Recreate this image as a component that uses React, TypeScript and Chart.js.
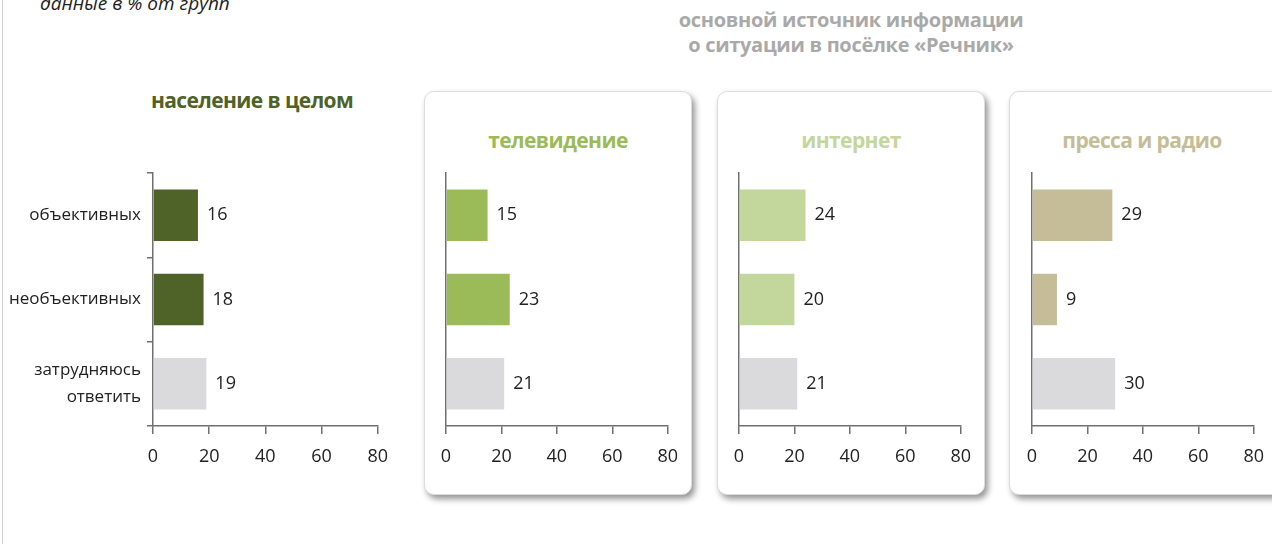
import React, { useEffect, useRef } from "react";
import { Chart, registerables } from "chart.js";

Chart.register(...registerables);

const CATEGORIES: (string | string[])[] = ["объективных", "необъективных", ["затрудняюсь", "ответить"]];
const X_TICKS = [0, 20, 40, 60, 80];
const POPULATION = [16, 18, 19];
const TELEVISION = [15, 23, 21];
const INTERNET = [24, 20, 21];
const PRESS_RADIO = [29, 9, 30];

const NOTE = "данные в % от групп";
const HEADER = ["основной источник информации", "о ситуации в посёлке «Речник»"];
const TITLE_POP = "население в целом";
const TITLE_TV = "телевидение";
const TITLE_NET = "интернет";
const TITLE_PRESS = "пресса и радио";

const FONT = "'Open Sans', sans-serif";
const GRAY_BAR = "#dadadc";
const AXIS = "#707070";

type PanelProps = {
  values: number[];
  color: string;
  showLabels: boolean;
  left: number;
  top: number;
  width: number;
  height: number;
  yWidth: number;
  padRight: number;
  padTop: number;
};

function BarChart(p: PanelProps) {
  const ref = useRef<HTMLCanvasElement | null>(null);
  useEffect(() => {
    if (!ref.current) return;
    const values = p.values;
    const valuePlugin = {
      id: "valueLabels",
      afterDatasetsDraw(chart: any) {
        const ctx = chart.ctx;
        const meta = chart.getDatasetMeta(0);
        ctx.save();
        ctx.font = `18px ${FONT}`;
        ctx.fillStyle = "#222";
        ctx.textAlign = "left";
        ctx.textBaseline = "middle";
        meta.data.forEach((bar: any, i: number) => {
          ctx.fillText(String(values[i]), bar.x + 9, bar.y);
        });
        ctx.restore();
      },
    };
    const chart = new Chart(ref.current, {
      type: "bar",
      data: {
        labels: CATEGORIES as any,
        datasets: [
          {
            data: values,
            backgroundColor: [p.color, p.color, GRAY_BAR],
            borderWidth: 0,
            categoryPercentage: 1,
            barPercentage: 0.61,
          },
        ],
      },
      options: {
        indexAxis: "y",
        responsive: false,
        animation: false,
        layout: { padding: { top: p.padTop, right: p.padRight, left: 0, bottom: 0 } },
        plugins: { legend: { display: false }, tooltip: { enabled: false }, title: { display: false } },
        scales: {
          x: {
            type: "linear",
            min: X_TICKS[0],
            max: X_TICKS[X_TICKS.length - 1],
            afterBuildTicks: (s: any) => {
              s.ticks = X_TICKS.map((v) => ({ value: v }));
            },
            ticks: { padding: 12, color: "#222", font: { size: 18, family: FONT } },
            grid: { drawOnChartArea: false, drawTicks: true, tickLength: 8, color: AXIS, lineWidth: 1.5 },
            border: { color: AXIS, width: 1.5 },
            afterFit: (s: any) => {
              s.height = 48;
            },
          },
          y: {
            type: "category",
            ticks: { display: p.showLabels, padding: 6, color: "#222", font: { size: 17, family: FONT, lineHeight: 1.6 } },
            grid: { display: p.showLabels, drawOnChartArea: false, drawTicks: true, tickLength: 6, color: AXIS, lineWidth: 1.5, offset: true },
            border: { color: AXIS, width: 1.5 },
            afterFit: (s: any) => {
              s.width = p.yWidth;
            },
          },
        },
      } as any,
      plugins: [valuePlugin],
    });
    return () => chart.destroy();
  }, []);
  return (
    <canvas
      ref={ref}
      width={p.width}
      height={p.height}
      style={{ position: "absolute", left: p.left, top: p.top, width: p.width, height: p.height }}
    />
  );
}

const panelStyle = (left: number, width: number): React.CSSProperties => ({
  position: "absolute",
  left,
  top: 91,
  width,
  height: 404,
  boxSizing: "border-box",
  border: "1px solid #dcdcdc",
  borderRadius: 10,
  background: "#fff",
  boxShadow: "3px 4px 6px rgba(0,0,0,0.42)",
});

const titleStyle = (centerX: number, top: number, color: string): React.CSSProperties => ({
  position: "absolute",
  left: centerX - 150,
  width: 300,
  top,
  textAlign: "center",
  fontFamily: FONT,
  fontWeight: "bold",
  fontSize: 21,
  letterSpacing: "-0.6px",
  lineHeight: "30px",
  color,
  whiteSpace: "nowrap",
});

const CANVAS_TOP = 120;
const CANVAS_H = 426 - CANVAS_TOP + 48;
const PAD_TOP = 173 - CANVAS_TOP;

export default function App() {
  useEffect(() => {
    document.body.style.margin = "0";
  }, []);
  return (
    <div style={{ position: "absolute", left: 0, top: 0, width: 1272, height: 544, overflow: "hidden", background: "#fff" }}>
      <div style={{ position: "absolute", left: 2, top: 0, width: 1, height: 544, background: "#d0d0d0" }} />
      <div
        style={{
          position: "absolute",
          left: 40,
          top: -9,
          fontFamily: FONT,
          fontStyle: "italic",
          fontSize: 19,
          lineHeight: "24px",
          color: "#222",
          whiteSpace: "nowrap",
        }}
      >
        {NOTE}
      </div>
      <div
        style={{
          position: "absolute",
          left: 601,
          width: 500,
          top: 7,
          textAlign: "center",
          fontFamily: FONT,
          fontWeight: "bold",
          fontSize: 20,
          letterSpacing: "-0.3px",
          lineHeight: "25px",
          color: "#a9a9a9",
          whiteSpace: "nowrap",
        }}
      >
        {HEADER[0]}
        <br />
        {HEADER[1]}
      </div>

      <div style={panelStyle(424, 268)} />
      <div style={panelStyle(717, 268)} />
      <div style={panelStyle(1009, 290)} />

      <div style={titleStyle(252, 85, "#4f6228")}>{TITLE_POP}</div>
      <div style={titleStyle(558, 125, "#9bbb59")}>{TITLE_TV}</div>
      <div style={titleStyle(851, 125, "#c3d69b")}>{TITLE_NET}</div>
      <div style={titleStyle(1142, 125, "#c4bd97")}>{TITLE_PRESS}</div>

      <BarChart values={POPULATION} color="#4f6228" showLabels={true} left={0} top={CANVAS_TOP} width={400} height={CANVAS_H} yWidth={153} padRight={22} padTop={PAD_TOP} />
      <BarChart values={TELEVISION} color="#9bbb59" showLabels={false} left={426} top={CANVAS_TOP} width={264} height={CANVAS_H} yWidth={20} padRight={20} padTop={PAD_TOP} />
      <BarChart values={INTERNET} color="#c3d69b" showLabels={false} left={719} top={CANVAS_TOP} width={264} height={CANVAS_H} yWidth={20} padRight={20} padTop={PAD_TOP} />
      <BarChart values={PRESS_RADIO} color="#c4bd97" showLabels={false} left={1012} top={CANVAS_TOP} width={264} height={CANVAS_H} yWidth={20} padRight={20} padTop={PAD_TOP} />
    </div>
  );
}
